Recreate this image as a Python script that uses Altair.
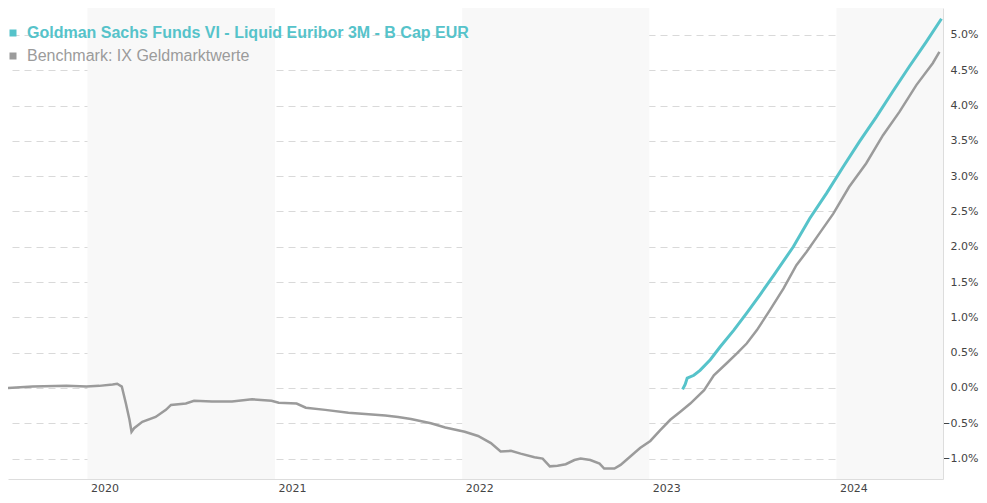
import altair as alt
import pandas as pd

# ---------------- data ----------------
bench_dates = [
    "2019-07-30", "2019-09-16", "2019-11-21", "2019-12-30", "2020-01-24", "2020-02-19",
    "2020-02-28", "2020-03-08", "2020-03-16", "2020-03-23", "2020-03-27", "2020-04-01",
    "2020-04-17", "2020-05-13", "2020-06-02", "2020-06-12", "2020-07-11", "2020-07-27",
    "2020-08-31", "2020-10-09", "2020-11-17", "2020-12-25", "2021-01-08", "2021-02-12",
    "2021-03-02", "2021-04-09", "2021-05-24", "2021-06-26", "2021-08-04", "2021-08-29",
    "2021-09-23", "2021-11-01", "2021-11-29", "2022-01-06", "2022-02-01", "2022-02-26",
    "2022-03-17", "2022-04-06", "2022-04-25", "2022-05-22", "2022-06-07", "2022-06-21",
    "2022-07-06", "2022-07-22", "2022-08-08", "2022-08-20", "2022-09-08", "2022-09-26",
    "2022-10-05", "2022-10-25", "2022-11-06", "2022-11-25", "2022-12-14", "2023-01-03",
    "2023-01-22", "2023-02-11", "2023-03-02", "2023-03-22", "2023-04-18", "2023-05-07",
    "2023-06-01", "2023-06-21", "2023-07-10", "2023-07-30", "2023-08-24", "2023-09-20",
    "2023-10-15", "2023-11-04", "2023-11-29", "2023-12-26", "2024-01-26", "2024-02-28",
    "2024-04-01", "2024-05-03", "2024-06-05", "2024-07-07", "2024-07-20",
]
bench_values = [
    0.00, 0.02, 0.03, 0.02, 0.03, 0.05,
    0.06, 0.02, -0.22, -0.45, -0.62, -0.57,
    -0.48, -0.41, -0.31, -0.24, -0.22, -0.18,
    -0.19, -0.19, -0.16, -0.18, -0.21, -0.22,
    -0.28, -0.31, -0.35, -0.37, -0.39, -0.41,
    -0.44, -0.50, -0.56, -0.62, -0.68, -0.78,
    -0.90, -0.89, -0.93, -0.98, -1.00, -1.11,
    -1.10, -1.08, -1.02, -1.00, -1.02, -1.07,
    -1.14, -1.14, -1.09, -0.97, -0.85, -0.75,
    -0.60, -0.45, -0.34, -0.22, -0.03, 0.18,
    0.35, 0.49, 0.63, 0.82, 1.10, 1.41,
    1.74, 1.93, 2.19, 2.47, 2.85, 3.18,
    3.58, 3.91, 4.29, 4.60, 4.76,
]

fund_dates = [
    "2023-03-07", "2023-03-12", "2023-03-16", "2023-03-29", "2023-04-10", "2023-04-30",
    "2023-05-19", "2023-06-15", "2023-07-10", "2023-08-05", "2023-09-01", "2023-10-09",
    "2023-11-10", "2023-12-13", "2024-01-14", "2024-02-15", "2024-03-19", "2024-04-20",
    "2024-05-22", "2024-06-24", "2024-07-24",
]
fund_values = [
    -0.02, 0.05, 0.14, 0.18, 0.25, 0.40,
    0.58, 0.82, 1.06, 1.32, 1.60, 2.00,
    2.40, 2.76, 3.13, 3.49, 3.84, 4.20,
    4.55, 4.90, 5.23,
]

fund_name = "Goldman Sachs Funds VI - Liquid Euribor 3M - B Cap EUR"
bench_name = "Benchmark: IX Geldmarktwerte"

year_ticks = [2020, 2021, 2022, 2023, 2024]
band_starts = ["2020-01-01", "2022-01-01", "2024-01-01"]
band_ends = ["2021-01-01", "2023-01-01", "2024-07-27"]
y_ticks = [-1.0, -0.5, 0.0, 0.5, 1.0, 1.5, 2.0, 2.5, 3.0, 3.5, 4.0, 4.5, 5.0]

# ---------------- styling ----------------
TEAL = "#56c3ca"
GREY = "#9b9b9b"
FONT = "DejaVu Sans"

df_b = pd.DataFrame({"date": pd.to_datetime(bench_dates), "value": bench_values})
df_f = pd.DataFrame({"date": pd.to_datetime(fund_dates), "value": fund_values})
df_bands = pd.DataFrame({"start": pd.to_datetime(band_starts), "end": pd.to_datetime(band_ends)})

x_scale = alt.Scale(domain=[alt.DateTime(year=2019, month=7, date=30),
                            alt.DateTime(year=2024, month=7, date=27)])
y_scale = alt.Scale(domain=[-1.289, 5.382], nice=False, zero=False)

x_axis = alt.Axis(
    values=[alt.DateTime(year=y, month=1, date=1) for y in year_ticks],
    format="%Y", title=None, grid=False, ticks=False, labelPadding=3,
    labelAlign="left", labelOffset=3, domainColor="#dddddd",
    labelFont=FONT, labelFontSize=11, labelColor="#444444",
)
y_axis = alt.Axis(
    orient="right", values=y_ticks, title=None, ticks=False, labelPadding=35,
    labelAlign="right",
    labelExpr="format(datum.value, '.1f') + '%'",
    grid=True, gridDash=[7, 5], gridColor="#d9d9d9", gridWidth=1,
    domainColor="#dddddd", labelFont=FONT, labelFontSize=11, labelColor="#444444",
)

bands = alt.Chart(df_bands).mark_rect(color="#f8f8f8").encode(
    x=alt.X("start:T", scale=x_scale, axis=x_axis),
    x2="end:T",
)

bench_line = alt.Chart(df_b).mark_line(color=GREY, strokeWidth=2.5).encode(
    x=alt.X("date:T", scale=x_scale, axis=x_axis),
    y=alt.Y("value:Q", scale=y_scale, axis=y_axis),
)
fund_line = alt.Chart(df_f).mark_line(color=TEAL, strokeWidth=3).encode(
    x=alt.X("date:T", scale=x_scale, axis=x_axis),
    y=alt.Y("value:Q", scale=y_scale, axis=y_axis),
)

leg_df1 = pd.DataFrame({"t": [fund_name]})
leg_df2 = pd.DataFrame({"t": [bench_name]})

leg_sq1 = alt.Chart(leg_df1).mark_square(color=TEAL, size=49, opacity=1).encode(
    x=alt.value(5), y=alt.value(25))
leg_tx1 = alt.Chart(leg_df1).mark_text(
    align="left", baseline="middle", font="Liberation Sans", fontSize=16,
    fontWeight="bold", color=TEAL).encode(x=alt.value(19), y=alt.value(25), text="t:N")
leg_sq2 = alt.Chart(leg_df2).mark_square(color=GREY, size=49, opacity=1).encode(
    x=alt.value(5), y=alt.value(48))
leg_tx2 = alt.Chart(leg_df2).mark_text(
    align="left", baseline="middle", font="Liberation Sans", fontSize=16,
    color=GREY).encode(x=alt.value(19), y=alt.value(48), text="t:N")

chart = alt.layer(
    bands, bench_line, fund_line, leg_sq1, leg_tx1, leg_sq2, leg_tx2
).properties(
    width=935, height=471,
    autosize=alt.AutoSizeParams(type="none"),
    padding={"left": 0, "top": 0, "right": 36, "bottom": 16},
).configure_view(stroke=None)

chart.save("out.html", embed_options={"renderer": "svg", "actions": False})
